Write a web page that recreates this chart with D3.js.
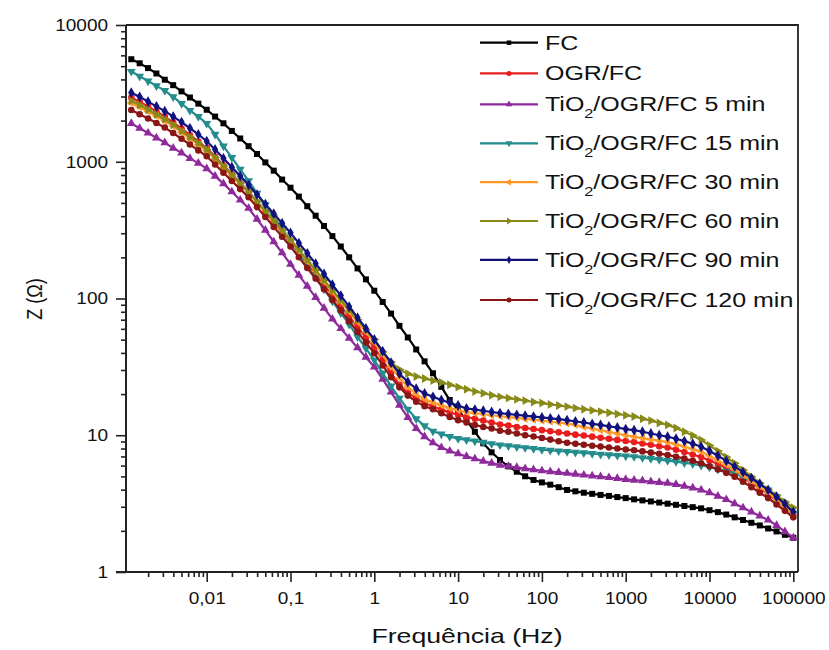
<!DOCTYPE html>
<html>
<head>
<meta charset="utf-8">
<script src="https://cdn.jsdelivr.net/npm/d3@7"></script>
<style>
  body { margin: 0; background: #fff; }
  text { font-family: "Liberation Sans", Arial, sans-serif; fill: #111; }
</style>
</head>
<body>
<svg id="chart" width="829" height="650"></svg>
<script>
// Frequency sweep: 10 points per decade, from 1.26 mHz up to 100 kHz (log10 of f in Hz)
const logFreq = d3.range(80).map(i => +(-2.9 + i * 0.1).toFixed(1));

// |Z| in ohm, one value per frequency (low -> high frequency)
const zFC = [5620,5250,4840,4420,3980,3630,3270,2950,2660,2400,
             2140,1910,1680,1480,1300,1140,989,861,741,646,
             556,473,403,339,286,240,200,166,138,114,
             94.4,77.6,63.1,51.9,42.4,34.7,28.4,22.6,18.1,15.3,
             12.9,10.6,8.73,7.50,6.59,5.92,5.41,5.01,4.71,4.52,
             4.35,4.17,3.98,3.89,3.80,3.73,3.66,3.60,3.53,3.47,
             3.40,3.34,3.28,3.22,3.16,3.10,3.04,2.98,2.92,2.83,
             2.74,2.63,2.51,2.40,2.29,2.19,2.08,1.98,1.87,1.78];

const zOGR = [2951,2742,2535,2333,2138,1941,1750,1570,1406,1259,
              1091,942,813,700,603,507,427,359,303,257,
              215,179,150,125,105,87.9,73.8,61.9,52.0,43.7,
              35.5,28.5,23.4,20.4,18.6,17.2,16.2,15.4,14.7,14.1,
              13.6,13.2,12.8,12.4,12.0,11.8,11.5,11.3,11.1,10.9,
              10.7,10.5,10.3,10.1,9.95,9.77,9.59,9.42,9.25,9.08,
              8.91,8.71,8.51,8.32,8.13,7.85,7.55,7.24,6.92,6.53,
              6.17,5.78,5.37,4.90,4.47,4.07,3.72,3.31,2.95,2.63];

const zTi5 = [1905,1758,1622,1496,1380,1259,1161,1059,977,891,
              785,692,603,525,457,380,316,260,216,178,
              148,123,102,85.1,70.8,60.3,51.3,43.7,37.2,31.6,
              25.7,20.7,16.6,13.5,11.2,9.77,8.81,8.13,7.67,7.33,
              7.00,6.73,6.47,6.25,6.05,5.93,5.82,5.70,5.60,5.50,
              5.42,5.35,5.27,5.20,5.12,5.05,4.98,4.91,4.83,4.76,
              4.70,4.65,4.58,4.52,4.46,4.37,4.25,4.12,3.98,3.80,
              3.59,3.39,3.16,2.95,2.75,2.57,2.40,2.19,1.97,1.78];

const zTi15 = [4571,4217,3890,3589,3311,2985,2661,2371,2138,1905,
               1585,1303,1072,881,724,589,484,394,324,263,
               214,176,143,117,95.5,78.5,64.6,52.5,43.2,35.5,
               28.5,22.9,18.6,15.5,13.2,11.7,10.7,10.2,9.77,9.44,
               9.25,9.06,8.87,8.67,8.49,8.36,8.22,8.11,7.98,7.85,
               7.76,7.67,7.59,7.50,7.43,7.35,7.26,7.19,7.11,7.05,
               6.97,6.85,6.75,6.64,6.53,6.41,6.28,6.17,6.03,5.85,
               5.66,5.46,5.25,4.95,4.62,4.32,3.98,3.55,3.09,2.69];

const zTi30 = [2692,2512,2333,2163,1995,1820,1641,1479,1334,1202,
               1047,906,785,679,589,501,427,363,309,263,
               222,187,158,133,112,94.6,79.8,67.3,56.8,47.9,
               38.9,31.6,26.3,22.6,20.0,18.4,17.4,16.6,15.8,15.3,
               14.8,14.5,14.3,14.0,13.8,13.6,13.4,13.2,13.0,12.8,
               12.6,12.4,12.2,11.9,11.5,11.2,10.9,10.6,10.3,10.0,
               9.77,9.55,9.33,9.12,8.91,8.61,8.28,7.94,7.59,7.08,
               6.58,6.10,5.62,5.11,4.62,4.19,3.80,3.37,2.98,2.63];

const zTi60 = [2780,2600,2399,2213,2042,1862,1679,1514,1365,1230,
               1072,929,804,697,603,513,437,372,316,269,
               227,191,161,136,115,97.3,82.4,69.8,59.2,50.1,
               40.7,34.3,30.2,28.2,26.9,26.0,25.1,24.3,23.4,22.5,
               21.7,20.9,20.3,19.6,19.1,18.7,18.3,17.9,17.5,17.2,
               16.8,16.5,16.2,15.8,15.5,15.2,14.9,14.6,14.3,14.0,
               13.7,13.2,12.8,12.3,11.9,11.3,10.6,9.95,9.23,8.43,
               7.66,6.92,6.24,5.57,4.98,4.45,3.98,3.61,3.26,2.95];

const zTi90 = [3199,2985,2754,2541,2344,2138,1950,1758,1585,1413,
               1230,1059,912,785,676,575,490,417,355,302,
               254,214,180,151,126,105,87.1,72.4,60.3,50.1,
               41.2,33.9,28.2,24.5,21.9,20.2,19.1,18.1,17.3,16.5,
               15.7,15.4,15.1,14.8,14.5,14.3,14.1,13.9,13.7,13.5,
               13.3,13.1,12.9,12.6,12.4,12.1,11.9,11.6,11.4,11.1,
               10.9,10.6,10.3,10.0,9.75,9.42,9.06,8.67,8.24,7.67,
               7.08,6.49,5.89,5.37,4.86,4.42,3.98,3.55,3.14,2.75];

const zTi120 = [2388,2228,2070,1923,1778,1622,1472,1337,1211,1096,
                955,832,724,631,550,466,394,334,283,240,
                200,167,140,117,97.7,81.7,68.2,57.0,47.6,39.8,
                32.4,26.6,22.4,19.5,17.6,16.3,15.5,14.5,13.6,12.9,
                12.4,11.9,11.5,11.2,10.8,10.6,10.3,10.0,9.79,9.55,
                9.29,9.04,8.81,8.67,8.53,8.39,8.26,8.13,8.00,7.87,
                7.76,7.62,7.46,7.33,7.18,6.97,6.75,6.50,6.24,5.93,
                5.62,5.31,4.98,4.57,4.17,3.80,3.47,3.12,2.80,2.51];

const seriesLabels = ["FC", "OGR/FC", "5 min", "15 min", "30 min", "60 min", "90 min", "120 min"];
const seriesColors = ["#000000", "#e81e1e", "#8e2a9c", "#238c8c", "#ff9a2a", "#8a8a18", "#12127e", "#8a1616"];
const seriesValues = [zFC, zOGR, zTi5, zTi15, zTi30, zTi60, zTi90, zTi120];
// marker shape, rotation and area for each series
const seriesSymbols = [d3.symbolSquare, d3.symbolCircle, d3.symbolTriangle, d3.symbolTriangle,
                       d3.symbolTriangle, d3.symbolTriangle, d3.symbolDiamond, d3.symbolCircle];
const symbolRotation = [0, 0, 0, 180, -90, 90, 0, 0];
const symbolArea = [36, 34, 34, 34, 30, 34, 34, 34];

const yTickValues = [1, 10, 100, 1000, 10000];
const xTickValues = [0.01, 0.1, 1, 10, 100, 1000, 10000, 100000];

const svg = d3.select("#chart");
const L = 126, R = 798, T = 25, B = 572;

const x = d3.scaleLog().domain([Math.pow(10, -2.963), Math.pow(10, 5.056)]).range([L, R]);
const y = d3.scaleLog().domain([1, 10000]).range([B, T]);

// minor ticks 2..9 in every decade
const xMinor = [];
for (let e = -3; e <= 5; e++) for (let m = 2; m <= 9; m++) {
  const v = m * Math.pow(10, e);
  if (x(v) >= L && x(v) <= R) xMinor.push(v);
}
const yMinor = [];
for (let e = 0; e < 4; e++) for (let m = 2; m <= 9; m++) yMinor.push(m * Math.pow(10, e));

const fmtComma = v => String(v).replace(".", ",");

// frame (top and right borders)
svg.append("path")
  .attr("d", `M${L},${T}H${R}V${B}`)
  .attr("fill", "none").attr("stroke", "#222").attr("stroke-width", 1.8);

// bottom axis
const gx = svg.append("g").attr("transform", `translate(0,${B})`);
gx.append("g").call(d3.axisBottom(x).tickValues(xMinor).tickFormat("").tickSize(5).tickSizeOuter(0));
gx.append("g").call(d3.axisBottom(x).tickValues(xTickValues).tickFormat(fmtComma).tickSize(10).tickSizeOuter(0).tickPadding(10));
gx.selectAll("path.domain").attr("stroke", "#222").attr("stroke-width", 1.8)
  .attr("d", `M${L - 10},0H${R}`);
gx.selectAll(".tick line").attr("stroke", "#222").attr("stroke-width", 1.6);
gx.selectAll(".tick text").attr("font-size", 17).attr("font-family", "Liberation Sans, Arial, sans-serif")
  .attr("fill", "#111").attr("transform", "scale(1.12,1)");

// left axis
const gy = svg.append("g").attr("transform", `translate(${L},0)`);
gy.append("g").call(d3.axisLeft(y).tickValues(yMinor).tickFormat("").tickSize(5).tickSizeOuter(0));
gy.append("g").call(d3.axisLeft(y).tickValues(yTickValues).tickFormat(d3.format("d")).tickSize(10).tickSizeOuter(0).tickPadding(6));
gy.selectAll("path.domain").attr("stroke", "#222").attr("stroke-width", 1.8)
  .attr("d", `M0,${T}V${B}`);
gy.selectAll(".tick line").attr("stroke", "#222").attr("stroke-width", 1.6);
gy.selectAll(".tick text").attr("font-size", 17).attr("font-family", "Liberation Sans, Arial, sans-serif")
  .attr("fill", "#111").attr("transform", "scale(1.12,1)");

// axis titles
svg.append("text").attr("transform", "translate(467,643) scale(1.27,1)")
  .attr("text-anchor", "middle").attr("font-size", 21).text("Frequência (Hz)");
svg.append("text").attr("transform", "translate(42,299) rotate(-90) scale(1,1.25)")
  .attr("text-anchor", "middle").attr("font-size", 18).text("Z (Ω)");

// curves with a marker on every measured point
const line = d3.line().x(d => x(d[0])).y(d => y(d[1]));
seriesValues.forEach((vals, i) => {
  const pts = vals.map((v, k) => [Math.pow(10, logFreq[k]), v]);
  const g = svg.append("g");
  g.append("path").attr("d", line(pts)).attr("fill", "none")
    .attr("stroke", seriesColors[i]).attr("stroke-width", 2.2);
  g.selectAll("path.m").data(pts).join("path").attr("class", "m")
    .attr("transform", d => `translate(${x(d[0])},${y(d[1])}) rotate(${symbolRotation[i]})`)
    .attr("d", d3.symbol(seriesSymbols[i], symbolArea[i]))
    .attr("fill", seriesColors[i]);
});

// legend
const legendRows = [42.7, 73.4, 104.3, 143.3, 182.2, 221.0, 259.8, 300];
const lg = svg.append("g");
seriesLabels.forEach((name, i) => {
  const yy = legendRows[i];
  lg.append("line").attr("x1", 480).attr("x2", 538).attr("y1", yy).attr("y2", yy)
    .attr("stroke", seriesColors[i]).attr("stroke-width", 2.2);
  lg.append("path").attr("transform", `translate(509,${yy}) rotate(${symbolRotation[i]})`)
    .attr("d", d3.symbol(seriesSymbols[i], 20)).attr("fill", seriesColors[i]);
  const t = lg.append("text").attr("transform", `translate(545,${yy + 7}) scale(1.25,1)`)
    .attr("font-size", 20);
  if (i < 2) {
    t.text(name);
  } else {
    t.append("tspan").text("TiO");
    t.append("tspan").attr("font-size", 13).attr("dy", 7).text("2");
    t.append("tspan").attr("dy", -7).text("/OGR/FC " + name);
  }
});
</script>
</body>
</html>
